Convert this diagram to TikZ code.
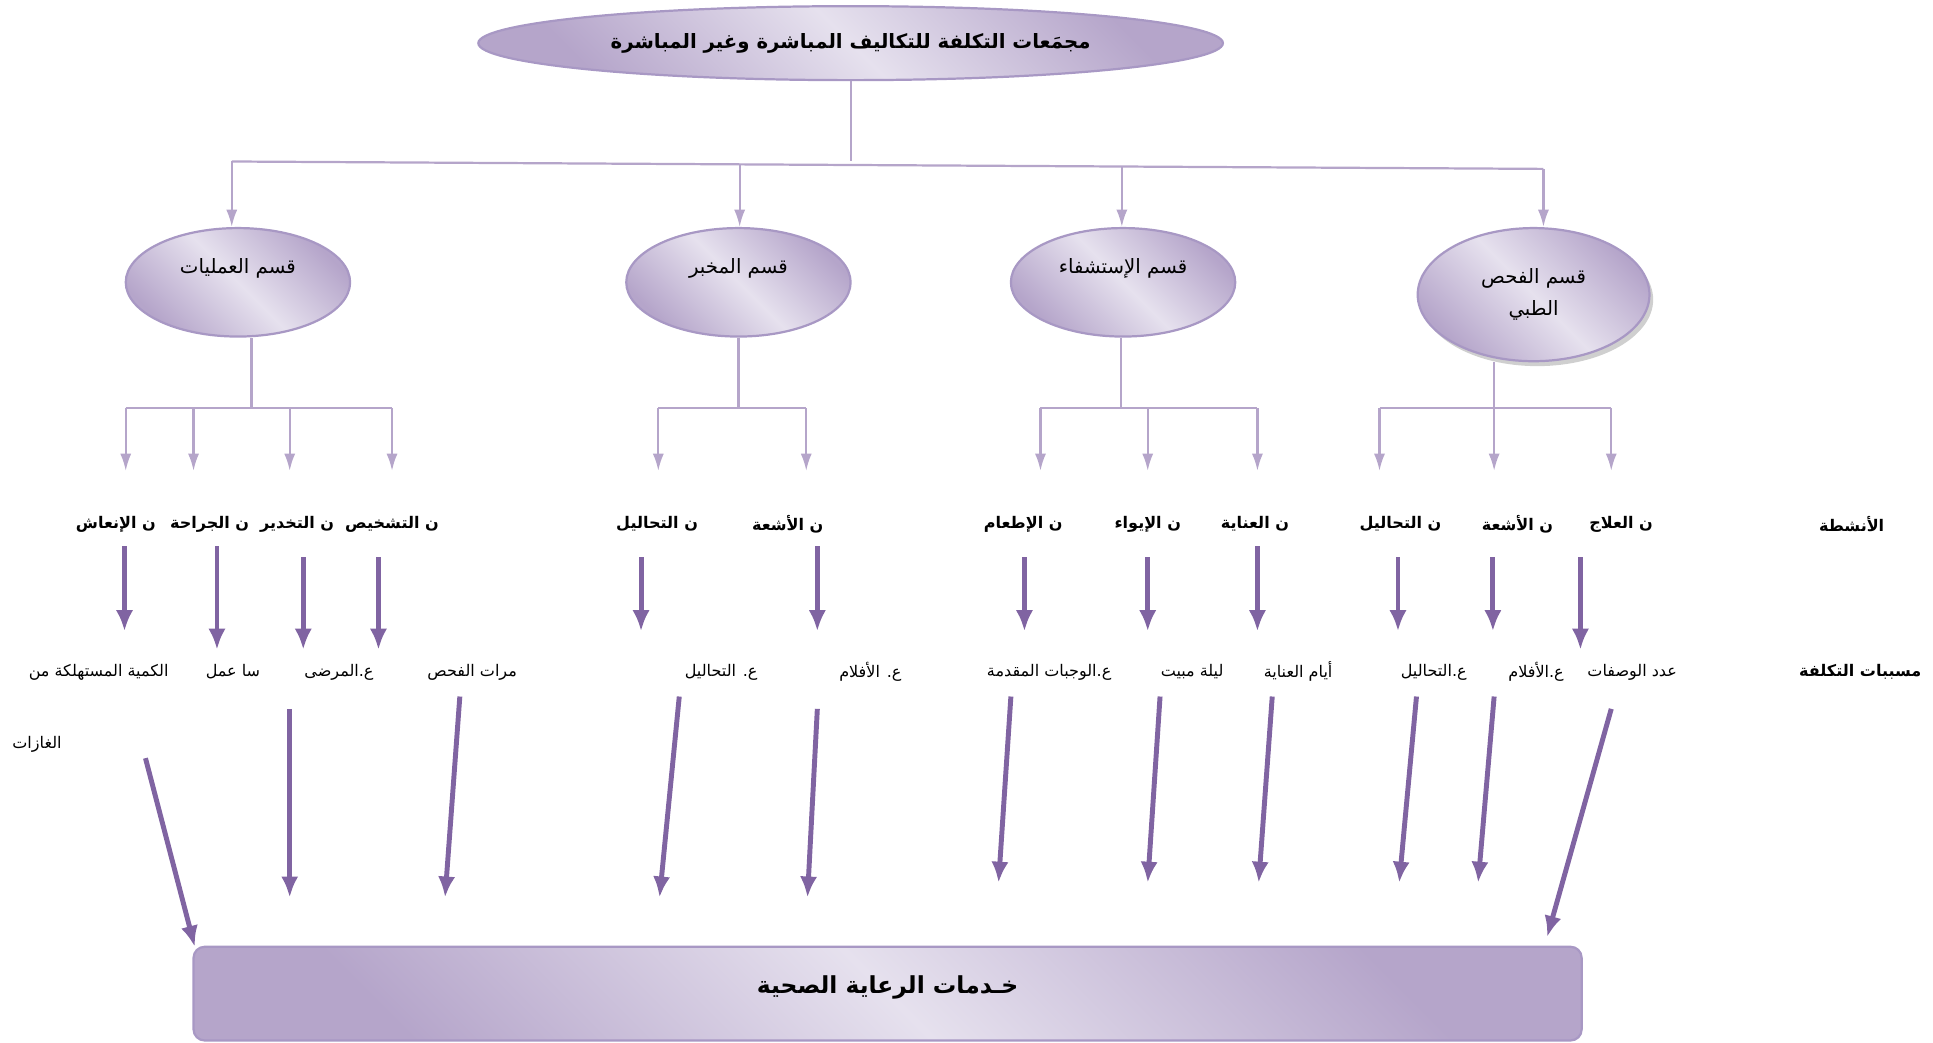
\documentclass[tikz,border=0pt]{standalone}
\usepackage{fontspec}
\usetikzlibrary{arrows.meta,shapes.geometric,shadows}
\newfontfamily\arabicfont[Script=Arabic]{DejaVu Sans}
\TeXXeTstate=1
\newcommand{\artext}[1]{{\arabicfont\beginR #1\endR}}
\definecolor{lavlight}{HTML}{E6E1EE}
\definecolor{lavdark}{HTML}{B5A5CA}
\definecolor{lavedge}{HTML}{A898C4}
\definecolor{heavypurple}{HTML}{8064A2}

\tikzset{
    oval/.style={ellipse,draw=lavedge,line width=1.8pt,inner sep=0pt,
        top color=lavdark,bottom color=lavdark,middle color=lavlight,shading angle=-45},
    thinlink/.style={draw=lavdark,line width=1.8pt},
    thinarrow/.style={thinlink,-{Latex[length=14pt,width=9pt]}},
    heavy/.style={draw=heavypurple,line width=4pt,-{Latex[length=17pt,width=14pt]}},
    actlabel/.style={font=\fontsize{13}{15}\selectfont\bfseries,inner sep=1pt},
    drvlabel/.style={font=\fontsize{13}{15}\selectfont,inner sep=1pt}
}

\begin{document}
\begin{tikzpicture}[x=1pt,y=-1pt]
    \useasboundingbox (0,0) rectangle (1568,846);

    % top and departments
    \node[oval,minimum width=604pt,minimum height=60pt,
        font=\fontsize{16}{19}\selectfont\bfseries] (top) at (690,35)
        {\artext{مجمَعات التكلفة للتكاليف المباشرة وغير المباشرة}};
    \begin{scope}[every node/.style={oval,minimum width=182pt,minimum height=88pt,
                    font=\fontsize{16}{19}\selectfont,text height=12pt,text depth=26pt}]
        \node (ops) at (193,229) {\artext{قسم العمليات}};
        \node (lab) at (599,229) {\artext{قسم المخبر}};
        \node (hosp) at (911,229) {\artext{قسم الإستشفاء}};
    \end{scope}
    \node[oval,minimum width=188pt,minimum height=108pt,align=center,
        font=\fontsize{16}{30}\selectfont,
        drop shadow={shadow xshift=3pt,shadow yshift=-4pt,fill=gray!75}] (exam) at (1244,239)
        {\artext{قسم الفحص}\\[-4pt]\artext{الطبي}};

    % bottom box
    \node[draw=lavedge,line width=1.8pt,rounded corners=9pt,minimum width=1126pt,minimum height=76pt,
        top color=lavdark,bottom color=lavdark,middle color=lavlight,shading angle=-45,
        font=\fontsize{19}{22}\selectfont\bfseries,text height=14pt,text depth=14pt] (care) at (720,806)
        {\artext{خـدمات الرعاية الصحية}};

    % top level links
    \coordinate (topjoin) at (690,131);
    \coordinate (busA) at (188,131);
    \coordinate (busB) at (600,133);
    \coordinate (busC) at (910,135);
    \coordinate (busD) at (1252,137);
    \draw[thinlink] (top.south) -- (topjoin);
    \draw[thinlink] (busA) -- (busD);
    \draw[thinarrow] (busA) -- (busA |- ops.north);
    \draw[thinarrow] (busB) -- (busB |- lab.north);
    \draw[thinarrow] (busC) -- (busC |- hosp.north);
    \draw[thinarrow] (busD) -- (busD |- exam.north);

    % department links
    \coordinate (tipline) at (0,382);
    \coordinate (opsjoin) at (204,331);
    \coordinate (labjoin) at (599,331);
    \coordinate (hospjoin) at (909,331);
    \coordinate (examjoin) at (1212,331);
    \coordinate (ops1) at (102,331);
    \coordinate (ops2) at (157,331);
    \coordinate (ops3) at (235,331);
    \coordinate (ops4) at (318,331);
    \coordinate (lab1) at (534,331);
    \coordinate (lab2) at (654,331);
    \coordinate (hosp1) at (844,331);
    \coordinate (hosp2) at (931,331);
    \coordinate (hosp3) at (1020,331);
    \coordinate (exam1) at (1119,331);
    \coordinate (exam2) at (1307,331);

    \draw[thinlink] (opsjoin |- ops.south) -- (opsjoin);
    \draw[thinlink] (labjoin |- lab.south) -- (labjoin);
    \draw[thinlink] (hospjoin |- hosp.south) -- (hospjoin);
    \draw[thinlink] (examjoin |- exam.south) -- (examjoin);
    \draw[thinlink] (ops1) -- (ops4);
    \draw[thinlink] (lab1) -- (lab2);
    \draw[thinlink] (hosp1) -- (hosp3);
    \draw[thinlink] (exam1) -- (exam2);
    \draw[thinarrow] (ops1) -- (ops1 |- tipline);
    \draw[thinarrow] (ops2) -- (ops2 |- tipline);
    \draw[thinarrow] (ops3) -- (ops3 |- tipline);
    \draw[thinarrow] (ops4) -- (ops4 |- tipline);
    \draw[thinarrow] (lab1) -- (lab1 |- tipline);
    \draw[thinarrow] (lab2) -- (lab2 |- tipline);
    \draw[thinarrow] (hosp1) -- (hosp1 |- tipline);
    \draw[thinarrow] (hosp2) -- (hosp2 |- tipline);
    \draw[thinarrow] (hosp3) -- (hosp3 |- tipline);
    \draw[thinarrow] (exam1) -- (exam1 |- tipline);
    \draw[thinarrow] (examjoin) -- (examjoin |- tipline);
    \draw[thinarrow] (exam2) -- (exam2 |- tipline);

    % activities
    \begin{scope}[every node/.style={actlabel}]
        \node (act1) at (94,425) {\artext{ن الإنعاش}};
        \node (act2) at (170,425) {\artext{ن الجراحة}};
        \node (act3) at (241,425) {\artext{ن التخدير}};
        \node (act4) at (318,425) {\artext{ن التشخيص}};
        \node (act5) at (533,425) {\artext{ن التحاليل}};
        \node (act6) at (639,425) {\artext{ن الأشعة}};
        \node (act7) at (830,425) {\artext{ن الإطعام}};
        \node (act8) at (931,425) {\artext{ن الإيواء}};
        \node (act9) at (1018,425) {\artext{ن العناية}};
        \node (act10) at (1136,425) {\artext{ن التحاليل}};
        \node (act11) at (1231,425) {\artext{ن الأشعة}};
        \node (act12) at (1315,425) {\artext{ن العلاج}};
        \node (acthead) at (1502,425) {\artext{الأنشطة}};
    \end{scope}

    % cost drivers
    \begin{scope}[every node/.style={drvlabel}]
        \node (drv1) at (80,545) {\artext{الكمية المستهلكة من}};
        \node (drv1b) at (30,604) {\artext{الغازات}};
        \node (drv2) at (189,545) {\artext{سا عمل}};
        \node (drv3) at (275,545) {\artext{ع.المرضى}};
        \node (drv4) at (383,545) {\artext{مرات الفحص}};
        \node (drv5) at (585,545) {\artext{ع. التحاليل}};
        \node (drv6) at (706,545) {\artext{ع. الأفلام}};
        \node (drv7) at (851,545) {\artext{ع.الوجبات المقدمة}};
        \node (drv8) at (967,545) {\artext{ليلة مبيت}};
        \node (drv9) at (1053,545) {\artext{أيام العناية}};
        \node (drv10) at (1163,545) {\artext{ع.التحاليل}};
        \node (drv11) at (1246,545) {\artext{ع.الأفلام}};
        \node (drv12) at (1324,545) {\artext{عدد الوصفات}};
        \node[font=\fontsize{13}{15}\selectfont\bfseries] (drvhead) at (1509,545) {\artext{مسببات التكلفة}};
    \end{scope}

    % activity -> driver arrows
    \coordinate (u1) at (101,443);  \coordinate (v1) at (101,512);
    \coordinate (u2) at (176,443);  \coordinate (v2) at (176,527);
    \coordinate (u3) at (246,452);  \coordinate (v3) at (246,527);
    \coordinate (u4) at (307,452);  \coordinate (v4) at (307,527);
    \coordinate (u5) at (520,452);  \coordinate (v5) at (520,512);
    \coordinate (u6) at (663,443);  \coordinate (v6) at (663,512);
    \coordinate (u7) at (831,452);  \coordinate (v7) at (831,512);
    \coordinate (u8) at (931,452);  \coordinate (v8) at (931,512);
    \coordinate (u9) at (1020,443); \coordinate (v9) at (1020,512);
    \coordinate (u10) at (1134,452); \coordinate (v10) at (1134,512);
    \coordinate (u11) at (1211,452); \coordinate (v11) at (1211,512);
    \coordinate (u12) at (1282,452); \coordinate (v12) at (1282,527);
    \draw[heavy] (u1) -- (v1);
    \draw[heavy] (u2) -- (v2);
    \draw[heavy] (u3) -- (v3);
    \draw[heavy] (u4) -- (v4);
    \draw[heavy] (u5) -- (v5);
    \draw[heavy] (u6) -- (v6);
    \draw[heavy] (u7) -- (v7);
    \draw[heavy] (u8) -- (v8);
    \draw[heavy] (u9) -- (v9);
    \draw[heavy] (u10) -- (v10);
    \draw[heavy] (u11) -- (v11);
    \draw[heavy] (u12) -- (v12);

    % driver -> care arrows
    \coordinate (p1) at (118,615);  \coordinate (q1) at (158,768);
    \coordinate (p2) at (235,575);  \coordinate (q2) at (235,728);
    \coordinate (p3) at (373,565);  \coordinate (q3) at (361,728);
    \coordinate (p4) at (551,565);  \coordinate (q4) at (535,728);
    \coordinate (p5) at (663,575);  \coordinate (q5) at (655,728);
    \coordinate (p6) at (820,565);  \coordinate (q6) at (810,716);
    \coordinate (p7) at (941,565);  \coordinate (q7) at (931,716);
    \coordinate (p8) at (1032,565); \coordinate (q8) at (1021,716);
    \coordinate (p9) at (1149,565); \coordinate (q9) at (1135,716);
    \coordinate (p10) at (1212,565); \coordinate (q10) at (1199,716);
    \coordinate (p11) at (1307,575); \coordinate (q11) at (1255,760);
    \draw[heavy] (p1) -- (q1);
    \draw[heavy] (p2) -- (q2);
    \draw[heavy] (p3) -- (q3);
    \draw[heavy] (p4) -- (q4);
    \draw[heavy] (p5) -- (q5);
    \draw[heavy] (p6) -- (q6);
    \draw[heavy] (p7) -- (q7);
    \draw[heavy] (p8) -- (q8);
    \draw[heavy] (p9) -- (q9);
    \draw[heavy] (p10) -- (q10);
    \draw[heavy] (p11) -- (q11);
\end{tikzpicture}
\end{document}
